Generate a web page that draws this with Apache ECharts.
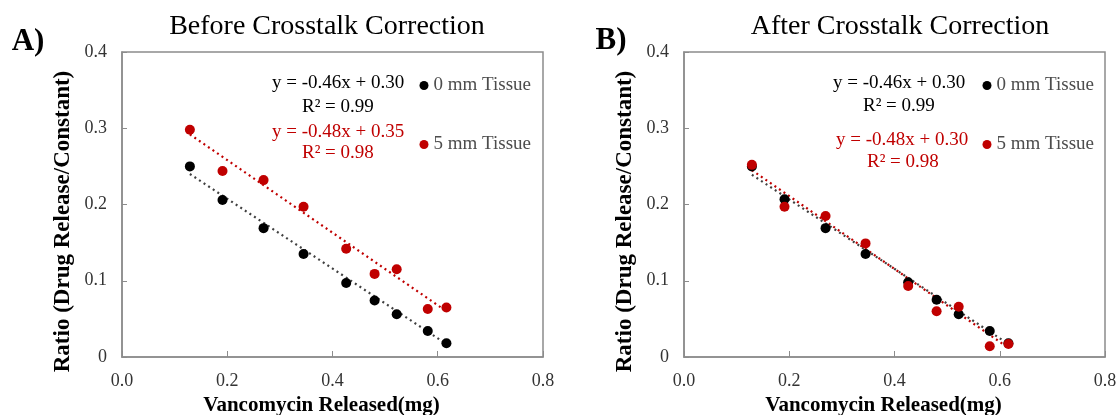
<!DOCTYPE html>
<html>
<head>
<meta charset="utf-8">
<script src="https://cdn.jsdelivr.net/npm/echarts@6/dist/echarts.min.js"></script>
<style>
html,body{margin:0;padding:0;background:#fff;}
#chart{width:1119px;height:415px;}
</style>
</head>
<body>
<div id="chart"></div>
<script>
// ---- data ----
const xReleased = [0.129, 0.191, 0.269, 0.345, 0.426, 0.480, 0.522, 0.581, 0.6165];
const before0mm = [0.250, 0.206, 0.169, 0.135, 0.097, 0.074, 0.056, 0.034, 0.018];
const before5mm = [0.298, 0.244, 0.232, 0.197, 0.142, 0.109, 0.115, 0.063, 0.065];
const after0mm  = [0.250, 0.207, 0.169, 0.135, 0.098, 0.075, 0.056, 0.034, 0.018];
const after5mm  = [0.252, 0.197, 0.185, 0.149, 0.093, 0.060, 0.066, 0.014, 0.017];
// trendline endpoints (x, y)
const trendBefore0 = [[0.129, 0.240], [0.6165, 0.017]];
const trendBefore5 = [[0.129, 0.292], [0.6165, 0.060]];
const trendAfter0  = [[0.129, 0.239], [0.6165, 0.017]];
const trendAfter5  = [[0.129, 0.245], [0.6165, 0.012]];
const xTicks = [0, 0.2, 0.4, 0.6, 0.8];
const yTicks = [0, 0.1, 0.2, 0.3, 0.4];
const seriesNames = ['0 mm Tissue', '5 mm Tissue'];
const panelTitles = ['Before Crosstalk Correction', 'After Crosstalk Correction'];
const panelLetters = ['A)', 'B)'];
const eqBefore = ['y = -0.46x + 0.30', 'R² = 0.99', 'y = -0.48x + 0.35', 'R² = 0.98'];
const eqAfter  = ['y = -0.46x + 0.30', 'R² = 0.99', 'y = -0.48x + 0.30', 'R² = 0.98'];
const xAxisName = 'Vancomycin Released(mg)';
const yAxisName = 'Ratio (Drug Release/Constant)';

const SERIF = '"Liberation Serif", "Times New Roman", serif';
const BLACK = '#000000';
const RED = '#c00000';
const AXIS = '#8c8c8c';

function pairs(xs, ys){ return xs.map((x,i)=>[x, ys[i]]); }

const grids = [
  {left:122, right:576, top:52, bottom:58},
  {left:684, right:14, top:52, bottom:58}
];

function xAx(i){
  return {
    gridIndex:i, type:'value', min:0, max:0.8, interval:0.2,
    name:xAxisName, nameLocation:'middle', nameGap:37,
    nameTextStyle:{fontFamily:SERIF, fontWeight:'bold', fontSize:21, color:'#000', padding:[0,22,0,0]},
    axisLine:{show:true, lineStyle:{color:AXIS, width:1.5}},
    axisTick:{show:true, inside:true, length:6, lineStyle:{color:AXIS}},
    axisLabel:{fontFamily:SERIF, fontSize:18, color:'#333', margin:15,
      formatter:v=>v.toFixed(1)},
    splitLine:{show:false}
  };
}
function yAx(i){
  return {
    gridIndex:i, type:'value', min:0, max:0.4, interval:0.1,
    name:yAxisName, nameLocation:'middle', nameGap:47,
    nameTextStyle:{fontFamily:SERIF, fontWeight:'bold', fontSize:23, color:'#000', padding:[0,34,0,0]},
    axisLine:{show:true, lineStyle:{color:AXIS, width:1.5}},
    axisTick:{show:true, inside:true, length:5, lineStyle:{color:AXIS}},
    axisLabel:{fontFamily:SERIF, fontSize:18, color:'#333', margin:15,
      formatter:v=> v===0 ? '0' : v.toFixed(1)},
    splitLine:{show:false}
  };
}

function scatter(name, gi, data, color){
  return {type:'scatter', name, xAxisIndex:gi, yAxisIndex:gi, data,
    symbol:'circle', symbolSize:10, itemStyle:{color, opacity:1}, z:3};
}
function trend(gi, data, color){
  return {type:'line', name:'trend', xAxisIndex:gi, yAxisIndex:gi, data,
    symbol:'none', silent:true, z:2,
    lineStyle:{color, width:2.2, type:[2,3.5]}};
}

function eqTexts(lines, ys, xs){
  return lines.map((t,i)=>({type:'text', x:xs[i], y:ys[i],
      style:{text:t, fill: i<2 ? BLACK : RED, font:'19px '+SERIF,
        textAlign:'left', textVerticalAlign:'middle'}}));
}

const graphics = [
  {type:'text', x:327, y:27, style:{text:panelTitles[0], fill:'#000', font:'28px '+SERIF, textAlign:'center', textVerticalAlign:'middle'}},
  {type:'text', x:900, y:27, style:{text:panelTitles[1], fill:'#000', font:'28px '+SERIF, textAlign:'center', textVerticalAlign:'middle'}},
  {type:'text', x:28, y:42, style:{text:panelLetters[0], fill:'#000', font:'bold 31px '+SERIF, textAlign:'center', textVerticalAlign:'middle'}},
  {type:'text', x:611, y:41, style:{text:panelLetters[1], fill:'#000', font:'bold 31px '+SERIF, textAlign:'center', textVerticalAlign:'middle'}},
  ...eqTexts(eqBefore, [83,107,132,153], [272,302,272,302]),
  ...eqTexts(eqAfter, [83,106,140,162], [833,863,836,867])
];

function legendAt(name, left, top){
  return {show:true, data:[{name, icon:'circle'}], left, top, orient:'vertical',
    itemWidth:9, itemHeight:9, padding:0, selectedMode:false,
    textStyle:{fontFamily:SERIF, fontSize:19, color:'#4d4d4d'}};
}

const option = {
  animation:false,
  backgroundColor:'#fff',
  grid: grids.map(g=>Object.assign({show:true, borderColor:AXIS, borderWidth:1.5, containLabel:false, outerBoundsMode:'none'}, g)),
  xAxis:[xAx(0), xAx(1)],
  yAxis:[yAx(0), yAx(1)],
  legend:[
    legendAt(seriesNames[0], 419.5, 76),
    legendAt(seriesNames[1], 419.5, 135),
    legendAt(seriesNames[0], 982.5, 76),
    legendAt(seriesNames[1], 982.5, 135)
  ],
  graphic: graphics,
  series:[
    trend(0, trendBefore0, '#404040'),
    trend(0, trendBefore5, RED),
    scatter(seriesNames[0], 0, pairs(xReleased, before0mm), BLACK),
    scatter(seriesNames[1], 0, pairs(xReleased, before5mm), RED),
    trend(1, trendAfter0, '#404040'),
    trend(1, trendAfter5, RED),
    scatter(seriesNames[0], 1, pairs(xReleased, after0mm), BLACK),
    scatter(seriesNames[1], 1, pairs(xReleased, after5mm), RED)
  ]
};
const chart = echarts.init(document.getElementById('chart'), null, {renderer:'canvas'});
chart.setOption(option);
</script>
</body>
</html>
